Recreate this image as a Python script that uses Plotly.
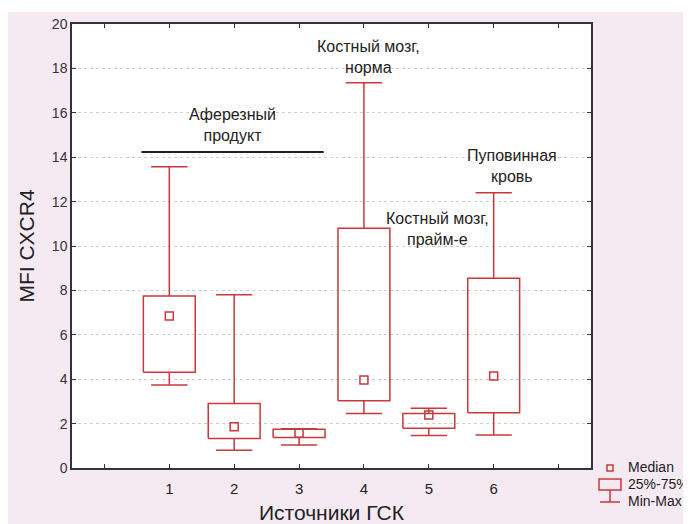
import plotly.graph_objects as go

groups = [1, 2, 3, 4, 5, 6]
mins = [3.74, 0.80, 1.04, 2.46, 1.46, 1.49]
q1s = [4.31, 1.33, 1.37, 3.03, 1.79, 2.49]
medians = [6.85, 1.86, 1.56, 3.96, 2.39, 4.14]
q3s = [7.75, 2.91, 1.74, 10.80, 2.46, 8.55]
maxs = [13.57, 7.80, 1.77, 17.35, 2.69, 12.40]

y_ticks = [0, 2, 4, 6, 8, 10, 12, 14, 16, 18, 20]
x_ticks = [0, 1, 2, 3, 4, 5, 6, 7]
x_ticklabels = ["", "1", "2", "3", "4", "5", "6", ""]

RED = "#c8383c"
PINK = "#f5eaf2"
FONT = "Liberation Sans, Arial, sans-serif"
BOX_HALF = 0.40
CAP_HALF = 0.28

# page body adds an 8px margin; the figure is sized to fill the rest
OFF = 8
W, H = 691 - OFF, 524 - OFF
# plot area in page pixels: x 72..591, y 24..468
ML, MT = 72 - OFF, 24 - OFF
MR = W - (591 - OFF)
MB = H - (468 - OFF)

fig = go.Figure()

bx, by = [], []
wx, wy = [], []
for g, lo, a, b, hi in zip(groups, mins, q1s, q3s, maxs):
    bx += [g - BOX_HALF, g + BOX_HALF, g + BOX_HALF, g - BOX_HALF, g - BOX_HALF, None]
    by += [a, a, b, b, a, None]
    wx += [g, g, None, g, g, None,
           g - CAP_HALF, g + CAP_HALF, None, g - CAP_HALF, g + CAP_HALF, None]
    wy += [b, hi, None, a, lo, None, hi, hi, None, lo, lo, None]

fig.add_trace(go.Scatter(x=wx, y=wy, mode="lines", line=dict(color=RED, width=1.5),
                         hoverinfo="skip", showlegend=False))
fig.add_trace(go.Scatter(x=bx, y=by, mode="lines", line=dict(color=RED, width=1.5),
                         hoverinfo="skip", showlegend=False))
fig.add_trace(go.Scatter(x=groups, y=medians, mode="markers",
                         marker=dict(symbol="square-open", size=8, color=RED,
                                     line=dict(width=1.5, color=RED)),
                         showlegend=False))

fig.add_trace(go.Scatter(x=[0.57, 3.38], y=[14.23, 14.23], mode="lines",
                         line=dict(color="#222222", width=2), hoverinfo="skip",
                         showlegend=False))

def px_to_paper_x(px):
    return (px - OFF - ML) / (W - ML - MR)

def px_to_paper_y(py):
    return 1 - (py - OFF - MT) / (H - MT - MB)

shapes = [
    dict(type="rect", xref="paper", yref="paper", layer="below",
         x0=px_to_paper_x(0), x1=px_to_paper_x(700),
         y0=px_to_paper_y(540), y1=px_to_paper_y(12),
         fillcolor=PINK, line=dict(width=0)),
    dict(type="rect", xref="paper", yref="paper", layer="below",
         x0=0, x1=1, y0=0, y1=1, fillcolor="white", line=dict(width=0)),
    dict(type="rect", xref="paper", yref="paper",
         x0=px_to_paper_x(607), x1=px_to_paper_x(613),
         y0=px_to_paper_y(471), y1=px_to_paper_y(465),
         line=dict(color=RED, width=1.5)),
    dict(type="rect", xref="paper", yref="paper",
         x0=px_to_paper_x(599), x1=px_to_paper_x(621),
         y0=px_to_paper_y(490), y1=px_to_paper_y(479),
         line=dict(color=RED, width=1.5)),
    dict(type="line", xref="paper", yref="paper",
         x0=px_to_paper_x(610), x1=px_to_paper_x(610),
         y0=px_to_paper_y(490), y1=px_to_paper_y(502),
         line=dict(color=RED, width=1.5)),
    dict(type="line", xref="paper", yref="paper",
         x0=px_to_paper_x(600), x1=px_to_paper_x(620),
         y0=px_to_paper_y(502), y1=px_to_paper_y(502),
         line=dict(color=RED, width=1.5)),
]

ann_font = dict(size=16, color="#222")
leg_font = dict(size=14, color="#222")

def note(x, y, text, font, xanchor="center"):
    return dict(x=px_to_paper_x(x), y=px_to_paper_y(y), xref="paper", yref="paper",
                xanchor=xanchor, yanchor="middle", text=text, showarrow=False,
                font=font, align="center" if xanchor == "center" else "left")

annotations = [
    note(232, 125, "Аферезный<br>продукт", ann_font),
    note(368, 57, "Костный мозг,<br>норма", ann_font),
    note(437, 229, "Костный мозг,<br>прайм-е", ann_font),
    note(512, 166, "Пуповинная<br>кровь", ann_font),
    note(626, 467, "Median", leg_font, "left"),
    note(626, 484, "25%-75%", leg_font, "left"),
    note(626, 501, "Min-Max", leg_font, "left"),
]

fig.update_layout(
    width=W, height=H,
    margin=dict(l=ML, r=MR, t=MT, b=MB, autoexpand=False),
    paper_bgcolor="white",
    plot_bgcolor="rgba(0,0,0,0)",
    font=dict(family=FONT, color="#222"),
    shapes=shapes,
    annotations=annotations,
    showlegend=False,
    xaxis=dict(range=[-0.5, 7.5], tickvals=x_ticks, ticktext=x_ticklabels,
               automargin=False,
               showgrid=False, zeroline=False, showline=True, linecolor="#333",
               linewidth=1.5, mirror="ticks", ticks="inside", ticklen=4,
               tickcolor="#333", tickfont=dict(size=15), ticklabelstandoff=6,
               title=dict(text="Источники ГСК", font=dict(size=21), standoff=10)),
    yaxis=dict(range=[0, 20], tickvals=y_ticks, showgrid=True, automargin=False,
               gridcolor="#cfcfcf", griddash="dot", gridwidth=1,
               zeroline=False, showline=True, linecolor="#333", linewidth=1.5,
               mirror="ticks", ticks="inside", ticklen=4, tickcolor="#333",
               tickfont=dict(size=14, color="#333"),
               title=dict(text="MFI CXCR4", font=dict(size=21), standoff=12)),
)

fig.write_html("out.html")
